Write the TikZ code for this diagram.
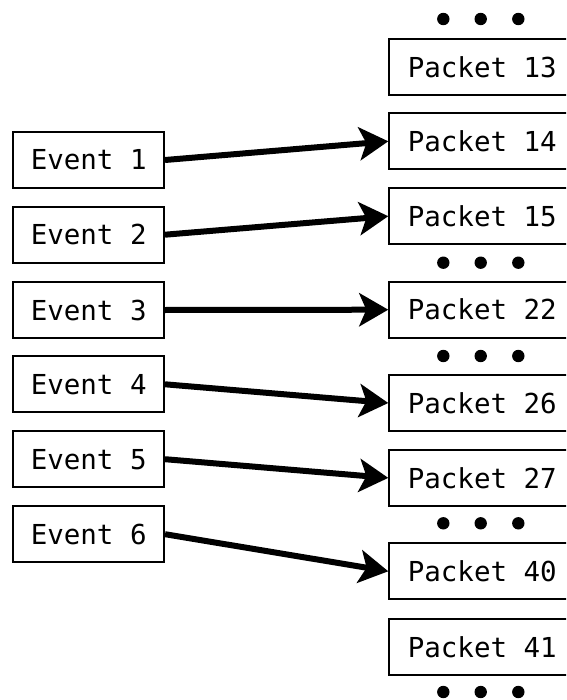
\documentclass[tikz,border=0pt]{standalone}
\usepackage{fontspec}
\setmonofont{DejaVu Sans Mono}
\usetikzlibrary{arrows.meta}
\tikzset{
  eventbox/.style={draw=black, line width=2pt, fill=white, minimum width=150.7pt,
    minimum height=56pt, inner sep=0pt, font=\ttfamily\fontsize{27.5}{30}\selectfont},
  packetbox/.style={draw=black, line width=2pt, fill=white, minimum width=186pt,
    minimum height=56pt, inner sep=0pt, anchor=west, font=\ttfamily\fontsize{27.5}{30}\selectfont},
  link/.style={line width=6pt, -{Stealth[length=29pt, width=33pt, inset=7pt]}},
  gapdot/.style={fill=black}
}
\newcommand{\gapdots}[2]{%
  \fill[gapdot] (443.3,#1) circle (6.2pt);
  \fill[gapdot] (480.7,#1) circle (6.2pt);
  \fill[gapdot] (518.3,#1) circle (6.2pt);
  \coordinate (#2) at (480.7,#1);
}
\begin{document}
\begin{tikzpicture}[x=1pt, y=-1pt]
  \useasboundingbox (0,0) rectangle (566,700);
  \clip (0,0) rectangle (566,700);

  % events on the left
  \node[eventbox] (e1) at (88.7,160.0) {Event 1};
  \node[eventbox] (e2) at (88.7,234.7) {Event 2};
  \node[eventbox] (e3) at (88.7,310.0) {Event 3};
  \node[eventbox] (e4) at (88.7,384.3) {Event 4};
  \node[eventbox] (e5) at (88.7,459.2) {Event 5};
  \node[eventbox] (e6) at (88.7,534.2) {Event 6};

  % packet stream on the right, with gaps
  \gapdots{19}{gap0}
  \node[packetbox] (p13) at (388.3,67.5) {Packet 13};
  \node[packetbox] (p14) at (388.3,141.3) {Packet 14};
  \node[packetbox] (p15) at (388.3,216.2) {Packet 15};
  \gapdots{262.7}{gap1}
  \node[packetbox] (p22) at (388.3,309.7) {Packet 22};
  \gapdots{356}{gap2}
  \node[packetbox] (p26) at (388.3,403.0) {Packet 26};
  \node[packetbox] (p27) at (388.3,477.9) {Packet 27};
  \gapdots{523.3}{gap3}
  \node[packetbox] (p40) at (388.3,571.3) {Packet 40};
  \node[packetbox] (p41) at (388.3,647.0) {Packet 41};
  \gapdots{692}{gap4}

  % event to packet mapping
  \draw[link] (e1.east) -- (p14.west);
  \draw[link] (e2.east) -- (p15.west);
  \draw[link] (e3.east) -- (p22.west);
  \draw[link] (e4.east) -- (p26.west);
  \draw[link] (e5.east) -- (p27.west);
  \draw[link] (e6.east) -- (p40.west);
\end{tikzpicture}
\end{document}
